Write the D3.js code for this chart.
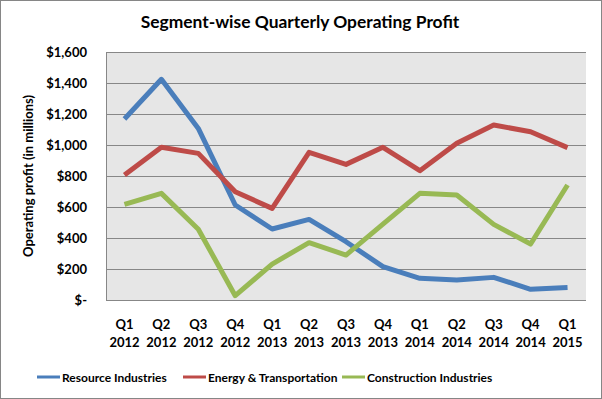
<!DOCTYPE html>
<html>
<head>
<meta charset="utf-8">
<style>
  body { margin: 0; background: #fff; }
  svg { display: block; font-family: Lato, "Open Sans", sans-serif; font-weight: bold; }
</style>
</head>
<body>
<svg id="chart"></svg>
<script src="https://d3js.org/d3.v7.min.js"></script>
<script>

  var quarters = ["Q1", "Q2", "Q3", "Q4", "Q1", "Q2", "Q3", "Q4", "Q1", "Q2", "Q3", "Q4", "Q1"];
  var years = ["2012", "2012", "2012", "2012", "2013", "2013", "2013", "2013", "2014", "2014", "2014", "2014", "2015"];

  var resource = [1168, 1424, 1107, 613, 458, 520, 376, 215, 140, 129, 146, 69, 80];
  var energy = [806, 985, 946, 699, 591, 953, 875, 985, 834, 1011, 1129, 1086, 983];
  var construction = [617, 688, 456, 28, 232, 370, 290, 490, 688, 677, 488, 361, 742];

  var yTicks = [0, 200, 400, 600, 800, 1000, 1200, 1400, 1600];

  var series = [
    {name: "Resource Industries", values: resource, color: "#4a7ebb"},
    {name: "Energy & Transportation", values: energy, color: "#be4b48"},
    {name: "Construction Industries", values: construction, color: "#98b954"}
  ];

  var width = 602, height = 399;
  var svg = d3.select("#chart")
    .attr("width", width)
    .attr("height", height);

  // outer frame
  svg.append("rect")
    .attr("x", 0.5).attr("y", 0.5)
    .attr("width", width - 1).attr("height", height - 1)
    .attr("fill", "#fff")
    .attr("stroke", "#868686");

  var plot = {left: 106, right: 586, top: 52, bottom: 300};

  var xScale = d3.scaleBand()
    .domain(d3.range(quarters.length))
    .range([plot.left, plot.right]);

  var yScale = d3.scaleLinear()
    .domain([0, 1600])
    .range([plot.bottom, plot.top]);

  svg.append("rect")
    .attr("x", plot.left).attr("y", plot.top)
    .attr("width", plot.right - plot.left)
    .attr("height", plot.bottom - plot.top)
    .attr("fill", "#e6e6e6");

  // gridlines
  svg.append("g")
    .selectAll("line")
    .data(yTicks)
    .enter().append("line")
    .attr("x1", plot.left).attr("x2", plot.right)
    .attr("y1", function(d) { return Math.round(yScale(d)) + 0.5; })
    .attr("y2", function(d) { return Math.round(yScale(d)) + 0.5; })
    .attr("stroke", "#878787");

  svg.append("line")
    .attr("x1", plot.left + 0.5).attr("x2", plot.left + 0.5)
    .attr("y1", plot.top).attr("y2", plot.bottom)
    .attr("stroke", "#878787");

  // y labels
  svg.append("g")
    .selectAll("text")
    .data(yTicks)
    .enter().append("text")
    .attr("x", 87)
    .attr("y", function(d) { return yScale(d) + 5; })
    .attr("text-anchor", "end")
    .attr("font-size", 13)
    .text(function(d) { return d === 0 ? "$-" : "$" + d3.format(",")(d); });

  // x labels
  var xLabels = svg.append("g")
    .selectAll("text")
    .data(quarters)
    .enter().append("text")
    .attr("x", function(d, i) { return xScale(i) + xScale.bandwidth() / 2; })
    .attr("text-anchor", "middle")
    .attr("font-size", 13);
  xLabels.append("tspan")
    .attr("x", function(d, i) { return xScale(i) + xScale.bandwidth() / 2; })
    .attr("y", 329)
    .text(function(d) { return d; });
  xLabels.append("tspan")
    .attr("x", function(d, i) { return xScale(i) + xScale.bandwidth() / 2; })
    .attr("y", 347)
    .text(function(d, i) { return years[i]; });

  // lines
  var line = d3.line()
    .x(function(d, i) { return xScale(i) + xScale.bandwidth() / 2; })
    .y(function(d) { return yScale(d); });

  svg.append("g")
    .selectAll("path")
    .data(series)
    .enter().append("path")
    .attr("d", function(d) { return line(d.values); })
    .attr("fill", "none")
    .attr("stroke", function(d) { return d.color; })
    .attr("stroke-width", 5)
    .attr("stroke-linejoin", "round");

  // title
  svg.append("text")
    .attr("x", 300)
    .attr("y", 28)
    .attr("text-anchor", "middle")
    .attr("font-size", 17.4)
    .text("Segment-wise Quarterly Operating Profit");

  // y axis title
  svg.append("text")
    .attr("transform", "translate(33, 176) rotate(-90)")
    .attr("text-anchor", "middle")
    .attr("font-size", 13)
    .text("Operating profit (in millions)");

  // legend
  var legendX = [37, 183, 342];
  var legend = svg.append("g")
    .selectAll("g")
    .data(series)
    .enter().append("g")
    .attr("transform", function(d, i) { return "translate(" + legendX[i] + ", 377)"; });
  legend.append("line")
    .attr("x1", 0).attr("x2", 23)
    .attr("stroke", function(d) { return d.color; })
    .attr("stroke-width", 3);
  legend.append("text")
    .attr("x", 25)
    .attr("y", 4.5)
    .attr("font-size", 12)
    .text(function(d) { return d.name; });

</script>
</body>
</html>
